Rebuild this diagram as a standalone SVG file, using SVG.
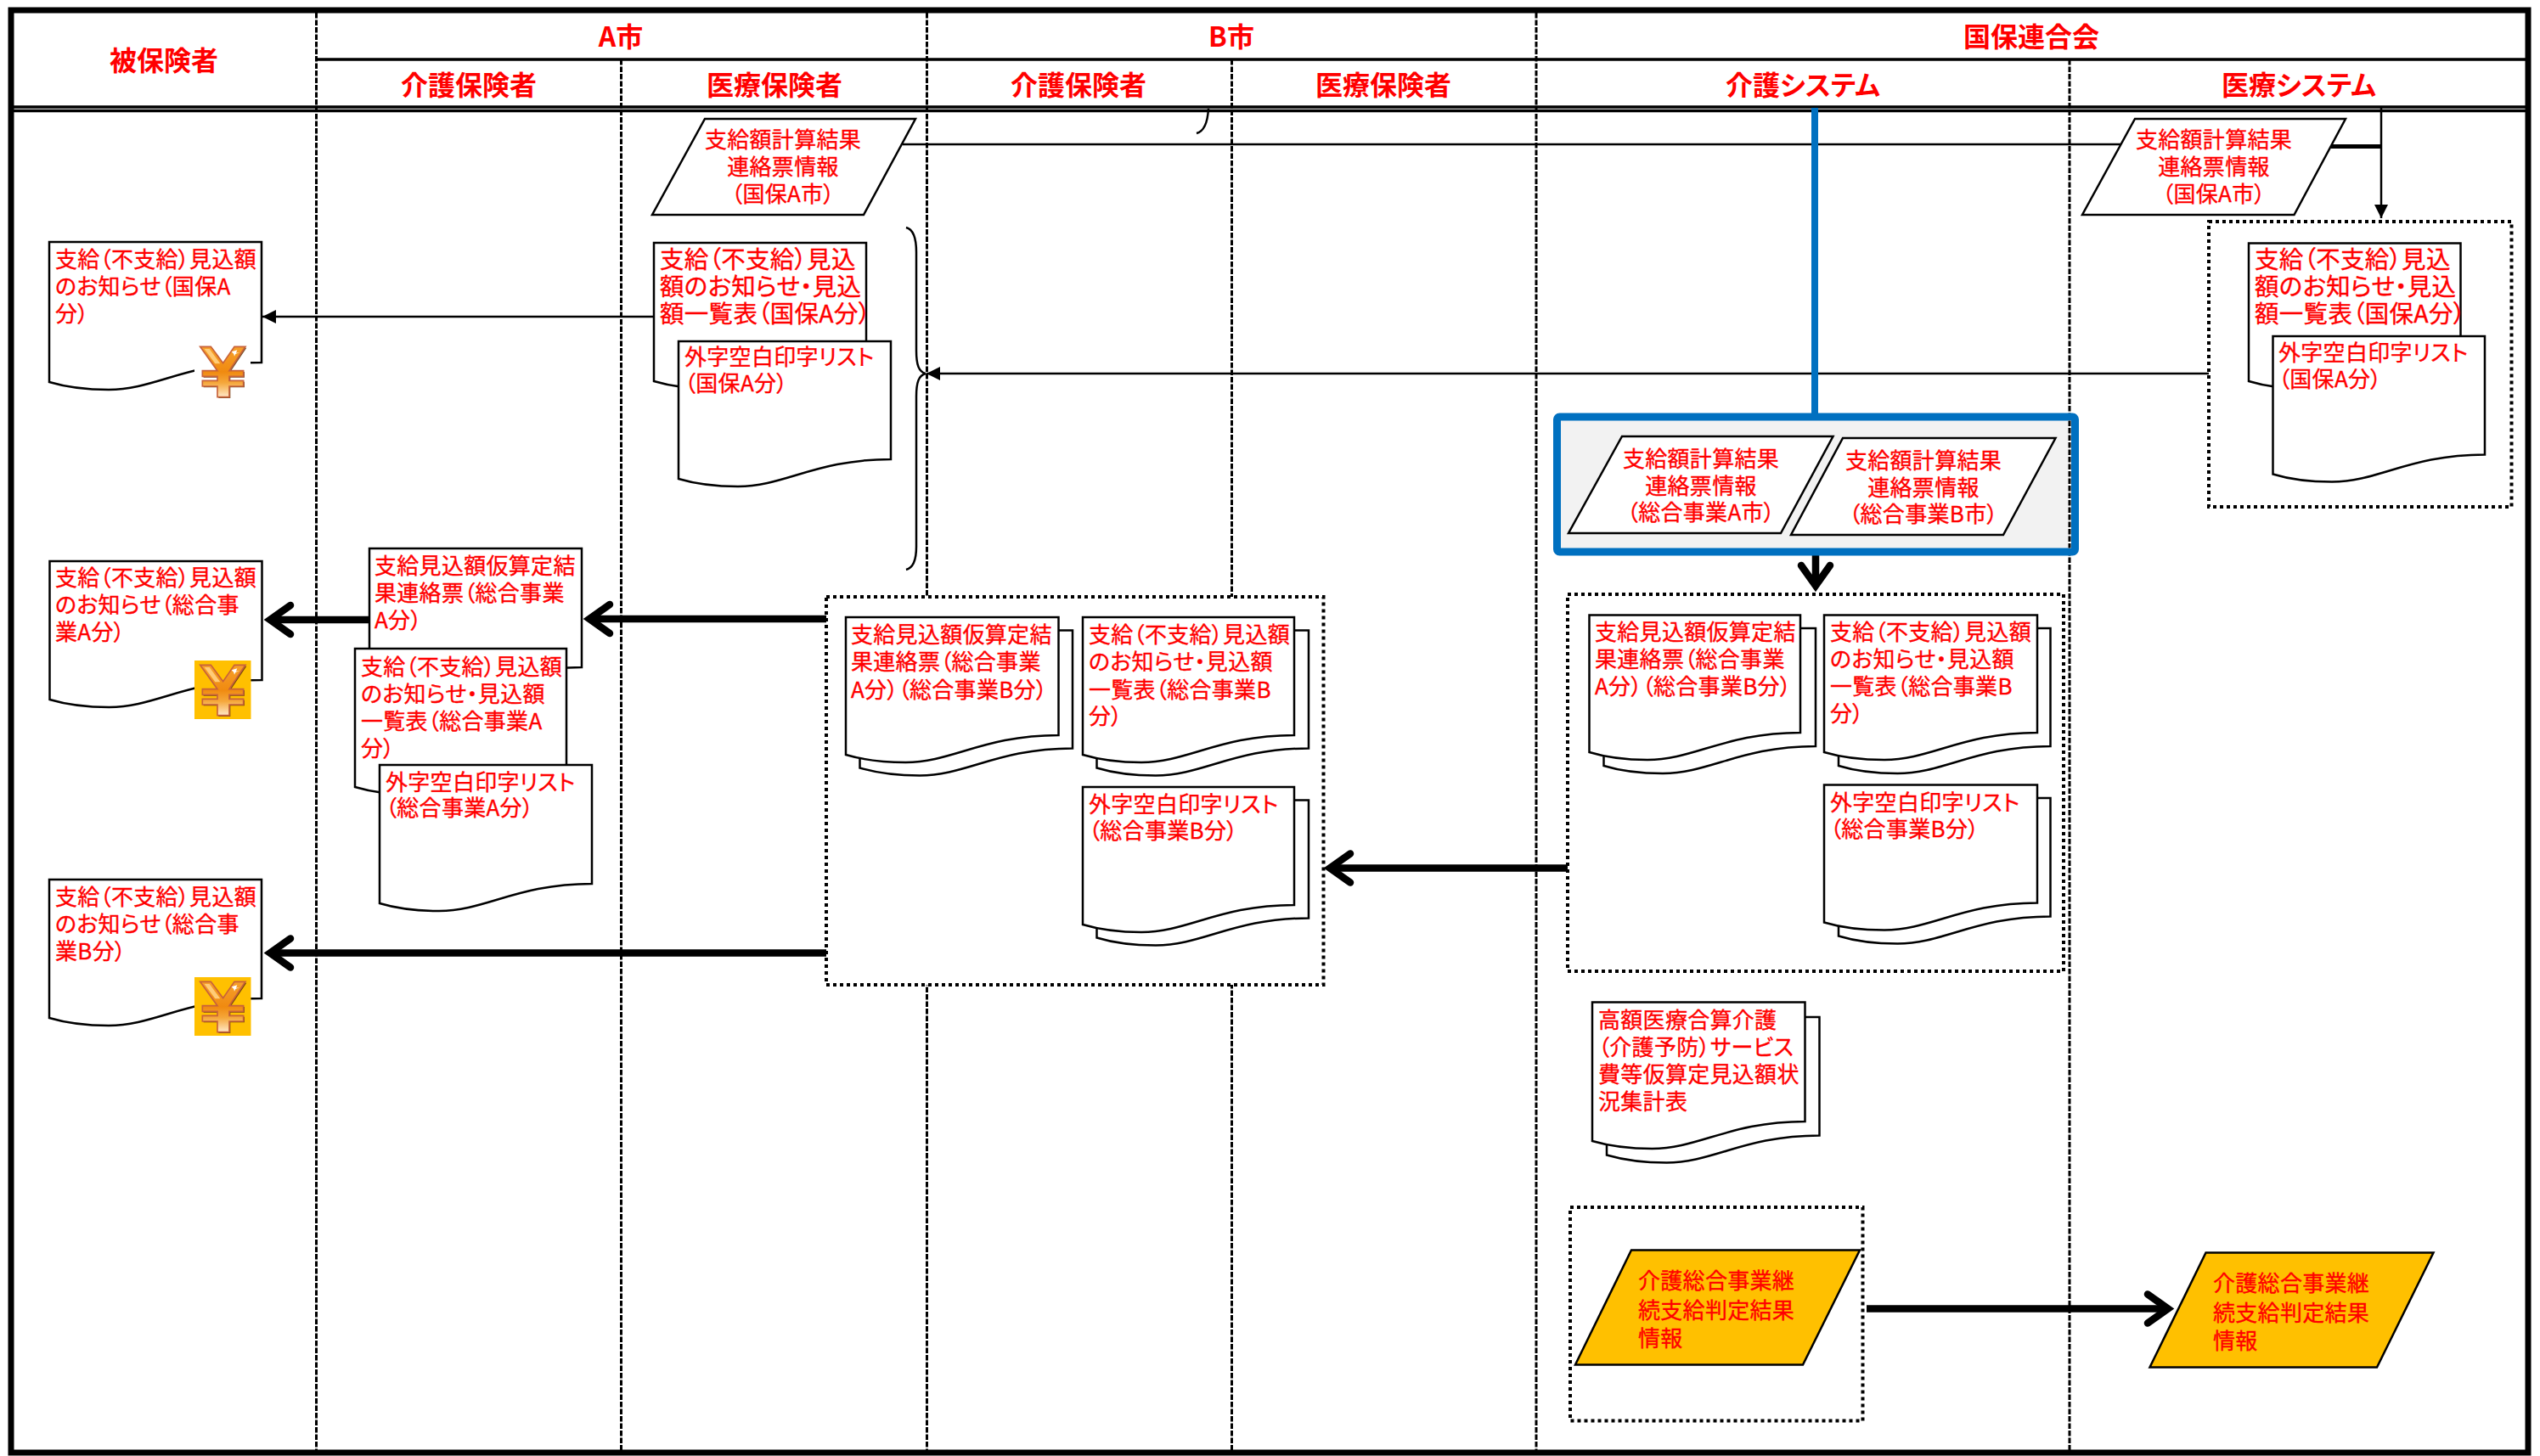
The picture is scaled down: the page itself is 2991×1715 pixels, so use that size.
<svg xmlns="http://www.w3.org/2000/svg" width="2991" height="1715" viewBox="0 0 2991 1715">
<style>
text{font-family:"Noto Sans CJK JP","Noto Sans CJK SC",sans-serif;fill:#f00;font-feature-settings:"palt";font-kerning:normal;transform:translateY(1.5px)}
.h{font-size:32px;font-weight:700;text-anchor:middle}
.t{font-size:26px;letter-spacing:.3px;stroke:#f00;stroke-width:.35px}
.b{font-size:28.500px}
.c{font-size:26px;text-anchor:middle;letter-spacing:.3px;stroke:#f00;stroke-width:.35px}
.shape{fill:#fff;stroke:#000;stroke-width:2.5}
.gold{fill:#FFC000;stroke:#000;stroke-width:2.5}
.dot{fill:#fff;stroke:#000;stroke-width:4;stroke-dasharray:4 4}
.lane{stroke:#000;stroke-width:3;stroke-dasharray:6.500 2;fill:none}
.solid{stroke:#000;fill:none}
.thin{stroke:#000;stroke-width:2.5;fill:none}
.thick{stroke:#000;stroke-width:8.500;fill:none}
</style>
<defs>
<marker id="solidHead" markerUnits="userSpaceOnUse" markerWidth="24" markerHeight="24" viewBox="-20 -12 24 24" refX="0" refY="0" orient="auto"><path d="M-16,-8 L0,0 L-16,8 Z" fill="#000"/></marker>
<marker id="openHead" markerUnits="userSpaceOnUse" markerWidth="56" markerHeight="56" viewBox="-38 -28 56 56" refX="0" refY="0" orient="auto"><path d="M-24,-17 L0,0 L-24,17" fill="none" stroke="#000" stroke-width="8.500" stroke-linecap="round"/></marker>
<linearGradient id="yenGrad" x1="0" y1="0" x2="0" y2="1"><stop offset="0" stop-color="#F6A02C"/><stop offset=".5" stop-color="#F08A10"/><stop offset=".72" stop-color="#F5A83C"/><stop offset="1" stop-color="#FFE8C8"/></linearGradient>
<g id="yen" transform="scale(.3333)">
<path d="M47,40 H85 L128,98 L168,40 H207 L150,125 H200 V145 H150 V160 H200 V180 H150 V218 H108 V180 H55 V160 H108 V145 H55 V125 H108 Z" fill="#5a3208" transform="translate(4,4)" opacity=".85"/>
<path d="M47,40 H85 L128,98 L168,40 H207 L150,125 H200 V145 H150 V160 H200 V180 H150 V218 H108 V180 H55 V160 H108 V145 H55 V125 H108 Z" fill="url(#yenGrad)" stroke="#C8623A" stroke-width="5"/>
<path d="M62,48 L80,48 L118,100 L100,100 Z" fill="#FFCC78"/>
<path d="M158,58 L178,52 L174,62 L186,60 L172,66 L168,74 L166,66 Z" fill="#fff"/>
</g>
</defs>

<g id="lanes">
<rect x="13" y="12" width="2964" height="1699" fill="#fff" stroke="#000" stroke-width="7"/>
<path class="solid" stroke-width="3.5" d="M372 70H2977"/>
<path class="solid" stroke-width="3.5" d="M13 126H2977M13 130.500H2977"/>
<path class="lane" d="M372.500 15V1708M731.500 70V1708M1091.500 15V1708M1450.500 70V1708M1809 15V1708M2437 70V1708"/>
<text class="h" x="193" y="81">被保険者</text>
<text class="h" x="731" y="53">A市</text>
<text class="h" x="1450" y="53">B市</text>
<text class="h" x="2392" y="53">国保連合会</text>
<text class="h" x="552" y="110">介護保険者</text>
<text class="h" x="912" y="110">医療保険者</text>
<text class="h" x="1270" y="110">介護保険者</text>
<text class="h" x="1629" y="110">医療保険者</text>
<text class="h" x="2123" y="110">介護システム</text>
<text class="h" x="2707" y="110">医療システム</text>
</g>

<g id="connectors">
<path class="thin" d="M1063 170H2497"/>
<path class="solid" stroke-width="5" d="M2745 172.500H2804"/>
<path class="thin" d="M2804 127V257" marker-end="url(#solidHead)"/>
<path class="thin" d="M2601 440H1091" marker-end="url(#solidHead)"/>
<path class="thin" d="M770 373H309" marker-end="url(#solidHead)"/>
<path class="thin" d="M1067 268C1075 270 1079 280 1079 297V413C1079 430 1082 438 1090 440C1082 442 1079 450 1079 467V644C1079 660 1075 669 1067 671"/>
<path class="thin" d="M1423 128C1422 145 1417 155 1409 157"/>
<path d="M2137 127V490" fill="none" stroke="#0070C0" stroke-width="8"/>
<path class="thick" d="M2138 654V690" marker-end="url(#openHead)"/>
<path class="thick" d="M435 730H318" marker-end="url(#openHead)"/>
<path class="thick" d="M973 729H694" marker-end="url(#openHead)"/>
<path class="thick" d="M973 1122.500H318" marker-end="url(#openHead)"/>
<path class="thick" d="M1846 1022.500H1566" marker-end="url(#openHead)"/>
<path class="thick" d="M2198 1541.500H2553" marker-end="url(#openHead)"/>
</g>

<g id="info-a-left">
<path class="shape" d="M830 140H1078L1017 253H768Z"/>
<text class="c"><tspan x="922" y="172">支給額計算結果</tspan><tspan x="922" y="204">連絡票情報</tspan><tspan x="922" y="236">（国保A市）</tspan></text>
</g>

<g id="notice-kokuho">
<path class="shape" d="M58 285H308V427c-88,0 -125,32 -180,32c-25,0 -50,-3 -70,-9Z"/>
<text class="t"><tspan x="65" y="313">支給（不支給）見込額</tspan><tspan x="65" y="345">のお知らせ（国保A</tspan><tspan x="65" y="377">分）</tspan></text>
<rect x="229" y="402" width="66" height="69" fill="#fff"/>
<use href="#yen" x="220" y="395"/>
</g>
<g id="notice-sogo-a">
<path class="shape" d="M58.500 661H308.500V801c-88,0 -125,32 -180,32c-25,0 -50,-3 -70,-9Z"/>
<text class="t"><tspan x="65" y="688">支給（不支給）見込額</tspan><tspan x="65" y="720">のお知らせ（総合事</tspan><tspan x="65" y="752">業A分）</tspan></text>
<rect x="229" y="778" width="66.500" height="69" fill="#FFC000"/>
<use href="#yen" x="220" y="770"/>
</g>
<g id="notice-sogo-b">
<path class="shape" d="M58 1036H308V1176c-88,0 -125,32 -180,32c-25,0 -50,-3 -70,-9Z"/>
<text class="t"><tspan x="65" y="1064">支給（不支給）見込額</tspan><tspan x="65" y="1096">のお知らせ（総合事</tspan><tspan x="65" y="1128">業B分）</tspan></text>
<rect x="229" y="1151" width="66.500" height="69" fill="#FFC000"/>
<use href="#yen" x="220" y="1143"/>
</g>

<g id="kari-a">
<path class="shape" d="M435 646H685V786c-88,0 -125,32 -180,32c-25,0 -50,-3 -70,-9Z"/>
<text class="t"><tspan x="441" y="674">支給見込額仮算定結</tspan><tspan x="441" y="706">果連絡票（総合事業</tspan><tspan x="441" y="738">A分）</tspan></text>
</g>
<g id="notice-list-a">
<path class="shape" d="M418 764H667V904c-88,0 -125,32 -180,32c-25,0 -49,-3 -69,-9Z"/>
<text class="t"><tspan x="425" y="793">支給（不支給）見込額</tspan><tspan x="425" y="825">のお知らせ・見込額</tspan><tspan x="425" y="857">一覧表（総合事業A</tspan><tspan x="425" y="889">分）</tspan></text>
</g>
<g id="gaiji-a">
<path class="shape" d="M447 901H697V1041c-88,0 -125,32 -180,32c-25,0 -50,-3 -70,-9Z"/>
<text class="t"><tspan x="454" y="929">外字空白印字リスト</tspan><tspan x="454" y="959">（総合事業A分）</tspan></text>
</g>

<g id="list-kokuho">
<path class="shape" d="M770 286H1020V426c-88,0 -125,32 -180,32c-25,0 -50,-3 -70,-9Z"/>
<text class="t b"><tspan x="777" y="314">支給（不支給）見込</tspan><tspan x="777" y="346">額のお知らせ・見込</tspan><tspan x="777" y="378">額一覧表（国保A分）</tspan></text>
</g>
<g id="gaiji-kokuho">
<path class="shape" d="M799 402H1049V541c-88,0 -125,32 -180,32c-25,0 -50,-3 -70,-9Z"/>
<text class="t"><tspan x="806" y="428">外字空白印字リスト</tspan><tspan x="806" y="459">（国保A分）</tspan></text>
</g>

<g id="info-a-right">
<path class="shape" d="M2514 140H2762L2701.500 253H2452Z"/>
<text class="c"><tspan x="2607" y="172">支給額計算結果</tspan><tspan x="2607" y="204">連絡票情報</tspan><tspan x="2607" y="236">（国保A市）</tspan></text>
</g>

<g id="box-iryo">
<rect class="dot" x="2601" y="261" width="356.500" height="336"/>
<path class="shape" d="M2648 286.500H2897.500V426c-88,0 -125,32 -180,32c-25,0 -50,-3 -69.500,-9Z"/>
<text class="t b"><tspan x="2655" y="314">支給（不支給）見込</tspan><tspan x="2655" y="346">額のお知らせ・見込</tspan><tspan x="2655" y="378">額一覧表（国保A分）</tspan></text>
<path class="shape" d="M2676.500 396H2926V535.500c-88,0 -125,32 -180,32c-25,0 -50,-3 -69.500,-9Z"/>
<text class="t"><tspan x="2683" y="423">外字空白印字リスト</tspan><tspan x="2683" y="454">（国保A分）</tspan></text>
</g>

<g id="box-blue">
<rect x="1833.500" y="491" width="610" height="159" rx="3" fill="#F2F2F2" stroke="#0070C0" stroke-width="9"/>
<path d="M2437 495.500V645.500" fill="none" stroke="#fff" stroke-width="3"/>
<path class="lane" d="M2437 495.500V645.500"/>
<path class="shape" d="M1910 514H2158.500L2097 628H1847Z"/>
<text class="c"><tspan x="2003" y="548">支給額計算結果</tspan><tspan x="2003" y="580">連絡票情報</tspan><tspan x="2003" y="611">（総合事業A市）</tspan></text>
<path class="shape" d="M2170 516H2420.500L2359 630H2109Z"/>
<text class="c"><tspan x="2265" y="550">支給額計算結果</tspan><tspan x="2265" y="582">連絡票情報</tspan><tspan x="2265" y="613">（総合事業B市）</tspan></text>
</g>

<g id="box-b">
<rect class="dot" x="973" y="703" width="585.500" height="457"/>
<path class="shape" d="M1012.500 742.500H1263V881.500c-88,0 -125,32 -180,32c-25,0 -50,-3 -70.500,-9Z"/>
<path class="shape" d="M996 727H1246.500V866c-88,0 -125,32 -180,32c-25,0 -50,-3 -70.500,-9Z"/>
<text class="t"><tspan x="1002" y="755">支給見込額仮算定結</tspan><tspan x="1002" y="787">果連絡票（総合事業</tspan><tspan x="1002" y="820">A分）（総合事業B分）</tspan></text>
<path class="shape" d="M1291.500 742.500H1541V881.500c-88,0 -125,32 -180,32c-25,0 -50,-3 -69.500,-9Z"/>
<path class="shape" d="M1275 727H1524V866c-88,0 -125,32 -180,32c-25,0 -49,-3 -69,-9Z"/>
<text class="t"><tspan x="1282" y="755">支給（不支給）見込額</tspan><tspan x="1282" y="787">のお知らせ・見込額</tspan><tspan x="1282" y="820">一覧表（総合事業B</tspan><tspan x="1282" y="851">分）</tspan></text>
<path class="shape" d="M1291.500 942.500H1541V1081.500c-88,0 -125,32 -180,32c-25,0 -50,-3 -69.500,-9Z"/>
<path class="shape" d="M1275 927H1524V1066c-88,0 -125,32 -180,32c-25,0 -49,-3 -69,-9Z"/>
<text class="t"><tspan x="1282" y="955">外字空白印字リスト</tspan><tspan x="1282" y="986">（総合事業B分）</tspan></text>
</g>

<g id="box-kaigo">
<rect class="dot" x="1846" y="700" width="584" height="444"/>
<path class="shape" d="M1888.500 740H2138V879c-88,0 -125,32 -180,32c-25,0 -50,-3 -69.500,-9Z"/>
<path class="shape" d="M1871.500 724.500H2120V863c-88,0 -125,32 -180,32c-25,0 -49,-3 -68.500,-9Z"/>
<text class="t"><tspan x="1878" y="752">支給見込額仮算定結</tspan><tspan x="1878" y="784">果連絡票（総合事業</tspan><tspan x="1878" y="816">A分）（総合事業B分）</tspan></text>
<path class="shape" d="M2165 740H2414.500V879c-88,0 -125,32 -180,32c-25,0 -50,-3 -69.500,-9Z"/>
<path class="shape" d="M2148 724.500H2399V863c-88,0 -125,32 -180,32c-25,0 -51,-3 -71,-9Z"/>
<text class="t"><tspan x="2155" y="752">支給（不支給）見込額</tspan><tspan x="2155" y="784">のお知らせ・見込額</tspan><tspan x="2155" y="816">一覧表（総合事業B</tspan><tspan x="2155" y="848">分）</tspan></text>
<path class="shape" d="M2165 940H2414.500V1079.500c-88,0 -125,32 -180,32c-25,0 -50,-3 -69.500,-9Z"/>
<path class="shape" d="M2148 924.500H2399V1063.500c-88,0 -125,32 -180,32c-25,0 -51,-3 -71,-9Z"/>
<text class="t"><tspan x="2155" y="953">外字空白印字リスト</tspan><tspan x="2155" y="984">（総合事業B分）</tspan></text>
</g>

<g id="kogaku">
<path class="shape" d="M1892 1198H2142.500V1337.500c-88,0 -125,32 -180,32c-25,0 -50,-3 -70.500,-9Z"/>
<path class="shape" d="M1875 1180.500H2125.500V1321c-88,0 -125,32 -180,32c-25,0 -50,-3 -70.500,-9Z"/>
<text class="t"><tspan x="1882" y="1209">高額医療合算介護</tspan><tspan x="1882" y="1241">（介護予防）サービス</tspan><tspan x="1882" y="1273">費等仮算定見込額状</tspan><tspan x="1882" y="1305">況集計表</tspan></text>
</g>

<g id="box-hantei">
<rect class="dot" x="1849" y="1422" width="344.500" height="251.500"/>
<path class="gold" d="M1921 1472.500H2190L2123 1607.500H1855Z"/>
<text class="t"><tspan x="1929" y="1516">介護総合事業継</tspan><tspan x="1929" y="1551">続支給判定結果</tspan><tspan x="1929" y="1584">情報</tspan></text>
</g>
<g id="hantei-right">
<path class="gold" d="M2597.500 1475.500H2865.500L2799 1610.500H2531.500Z"/>
<text class="t"><tspan x="2606" y="1519">介護総合事業継</tspan><tspan x="2606" y="1554">続支給判定結果</tspan><tspan x="2606" y="1587">情報</tspan></text>
</g>
</svg>
